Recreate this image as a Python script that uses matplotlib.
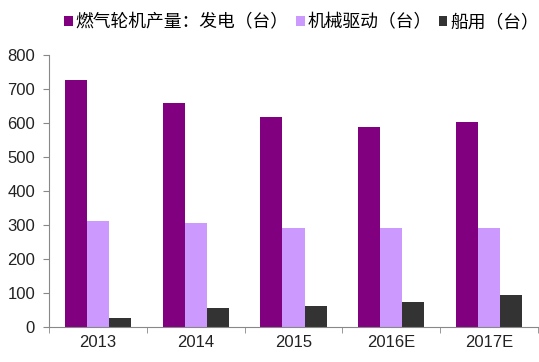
import matplotlib
matplotlib.use("Agg")
import matplotlib.pyplot as plt
import numpy as np

categories = ["2013", "2014", "2015", "2016E", "2017E"]
power = [725, 660, 618, 588, 603]
mech = [313, 305, 292, 292, 292]
marine = [26, 55, 62, 75, 94]
labels = ["燃气轮机产量：发电（台）", "机械驱动（台）", "船用（台）"]
colors = ["#800080", "#CC99FF", "#333333"]

fig = plt.figure(figsize=(5.39, 3.62), dpi=100)
ax = fig.add_axes([49/539, 1-327/362, 489/539, 272/362])
x = np.arange(len(categories))
w = 0.225
for i, (vals, c, lab) in enumerate(zip([power, mech, marine], colors, labels)):
    ax.bar(x + (i-1)*w, vals, w, color=c, label=lab)

ax.set_xlim(-0.5, len(categories)-0.5)
ax.set_ylim(0, 800)
ax.set_yticks(range(0, 801, 100))
ax.set_xticks(x)
ax.set_xticklabels(categories)
ax.set_xticks(np.arange(-0.5, len(categories)), minor=True)
ax.tick_params(axis='x', which='major', length=0, pad=6)
ax.tick_params(axis='x', which='minor', length=4, color='#888888', direction='out')
ax.tick_params(axis='y', length=4, color='#888888', direction='out', pad=6)
for lab in ax.get_xticklabels() + ax.get_yticklabels():
    lab.set_fontfamily(["Liberation Sans", "DejaVu Sans"])
    lab.set_fontsize(12)
    lab.set_color("#222222")
for s in ["top", "right"]:
    ax.spines[s].set_visible(False)
for s in ["left", "bottom"]:
    ax.spines[s].set_color("#888888")

leg = fig.legend(loc="center left", bbox_to_anchor=(64/539, 1-22/362), ncol=3, frameon=False,
                 prop={"family": ["Noto Sans CJK SC", "DejaVu Sans"], "size": 12.8},
                 handlelength=0.5, handleheight=0.5, handletextpad=0.15, columnspacing=0.4,
                 borderpad=0, borderaxespad=0)
fig.savefig("out.png", dpi=100)
